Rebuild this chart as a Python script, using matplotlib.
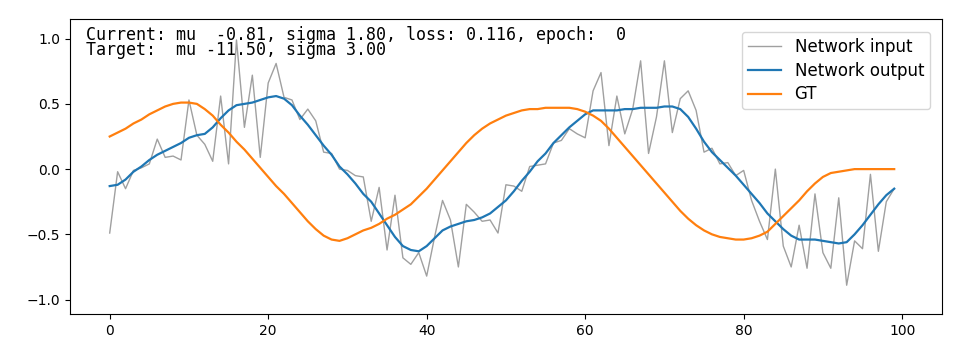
import numpy as np
import matplotlib
matplotlib.use("Agg")
import matplotlib.pyplot as plt

# values (100 samples each)
network_input = [
    -0.49, -0.02, -0.15, -0.01, 0.01, 0.04, 0.23, 0.09, 0.10, 0.07,
    0.53, 0.26, 0.19, 0.06, 0.56, 0.04, 0.99, 0.32, 0.72, 0.09,
    0.66, 0.81, 0.55, 0.53, 0.38, 0.46, 0.37, 0.13, 0.12, 0.00,
    -0.01, -0.05, -0.06, -0.40, -0.14, -0.62, -0.20, -0.68, -0.73, -0.64,
    -0.82, -0.52, -0.24, -0.39, -0.75, -0.27, -0.33, -0.40, -0.39, -0.49,
    -0.12, -0.13, -0.17, 0.02, 0.03, 0.04, 0.20, 0.22, 0.31, 0.27,
    0.24, 0.60, 0.74, 0.18, 0.56, 0.27, 0.46, 0.83, 0.12, 0.40,
    0.83, 0.28, 0.54, 0.60, 0.45, 0.13, 0.16, 0.04, 0.05, -0.05,
    -0.01, -0.24, -0.40, -0.54, 0.00, -0.59, -0.75, -0.43, -0.76, -0.19,
    -0.64, -0.76, -0.22, -0.89, -0.55, -0.61, -0.04, -0.63, -0.25, -0.15,
]

network_output = [
    -0.13, -0.12, -0.08, -0.02, 0.02, 0.07, 0.11, 0.14, 0.17, 0.20,
    0.24, 0.26, 0.27, 0.32, 0.39, 0.45, 0.49, 0.50, 0.51, 0.53,
    0.55, 0.56, 0.54, 0.49, 0.41, 0.34, 0.26, 0.18, 0.11, 0.02,
    -0.04, -0.11, -0.19, -0.25, -0.34, -0.43, -0.52, -0.59, -0.62, -0.63,
    -0.59, -0.53, -0.47, -0.44, -0.42, -0.40, -0.39, -0.37, -0.34, -0.29,
    -0.24, -0.17, -0.09, -0.02, 0.06, 0.12, 0.20, 0.26, 0.32, 0.37,
    0.42, 0.45, 0.45, 0.45, 0.45, 0.46, 0.46, 0.47, 0.47, 0.47,
    0.48, 0.48, 0.46, 0.40, 0.31, 0.21, 0.13, 0.07, 0.01, -0.05,
    -0.12, -0.19, -0.26, -0.34, -0.40, -0.46, -0.51, -0.54, -0.54, -0.54,
    -0.55, -0.56, -0.57, -0.56, -0.50, -0.43, -0.35, -0.27, -0.20, -0.15,
]

ground_truth = [
    0.25, 0.28, 0.31, 0.35, 0.38, 0.42, 0.45, 0.48, 0.50, 0.51,
    0.51, 0.50, 0.46, 0.41, 0.34, 0.28, 0.21, 0.15, 0.08, 0.01,
    -0.06, -0.13, -0.19, -0.26, -0.33, -0.40, -0.46, -0.51, -0.54, -0.55,
    -0.53, -0.50, -0.47, -0.45, -0.42, -0.38, -0.35, -0.31, -0.27, -0.21,
    -0.15, -0.08, -0.01, 0.06, 0.13, 0.20, 0.26, 0.31, 0.35, 0.38,
    0.41, 0.43, 0.45, 0.46, 0.46, 0.47, 0.47, 0.47, 0.47, 0.46,
    0.44, 0.41, 0.37, 0.31, 0.24, 0.17, 0.10, 0.03, -0.04, -0.11,
    -0.18, -0.25, -0.32, -0.38, -0.43, -0.47, -0.50, -0.52, -0.53, -0.54,
    -0.54, -0.53, -0.51, -0.48, -0.42, -0.36, -0.30, -0.24, -0.17, -0.11,
    -0.06, -0.03, -0.02, -0.01, 0.00, 0.00, 0.00, 0.00, 0.00, 0.00,
]

status_text = ("Current: mu  -0.81, sigma 1.80, loss: 0.116, epoch:  0\n"
               "Target:  mu -11.50, sigma 3.00")

x = np.arange(len(network_input))

fig, ax = plt.subplots(figsize=(9.6, 3.6), dpi=100)
fig.subplots_adjust(left=0.073, right=0.981, top=0.947, bottom=0.128)

ax.plot(x, network_input, color="gray", alpha=0.75, lw=1.0, label="Network input")
ax.plot(x, network_output, color="tab:blue", lw=1.6, label="Network output")
ax.plot(x, ground_truth, color="tab:orange", lw=1.6, label="GT")

ax.set_xlim(-5, 105)
ax.set_ylim(-1.11, 1.15)
ax.set_xticks([0, 20, 40, 60, 80, 100])
ax.set_yticks([-1.0, -0.5, 0.0, 0.5, 1.0])
ax.tick_params(labelsize=10)

# status line in the top-left corner
ax.text(0.018, 0.975, status_text, transform=ax.transAxes, va="top", ha="left",
        family="DejaVu Sans Mono", fontsize=12, linespacing=0.77)

ax.legend(loc="upper right", bbox_to_anchor=(0.996, 0.985), fontsize=12,
          labelspacing=0.35, borderpad=0.35)

fig.savefig("out.png", dpi=100)
